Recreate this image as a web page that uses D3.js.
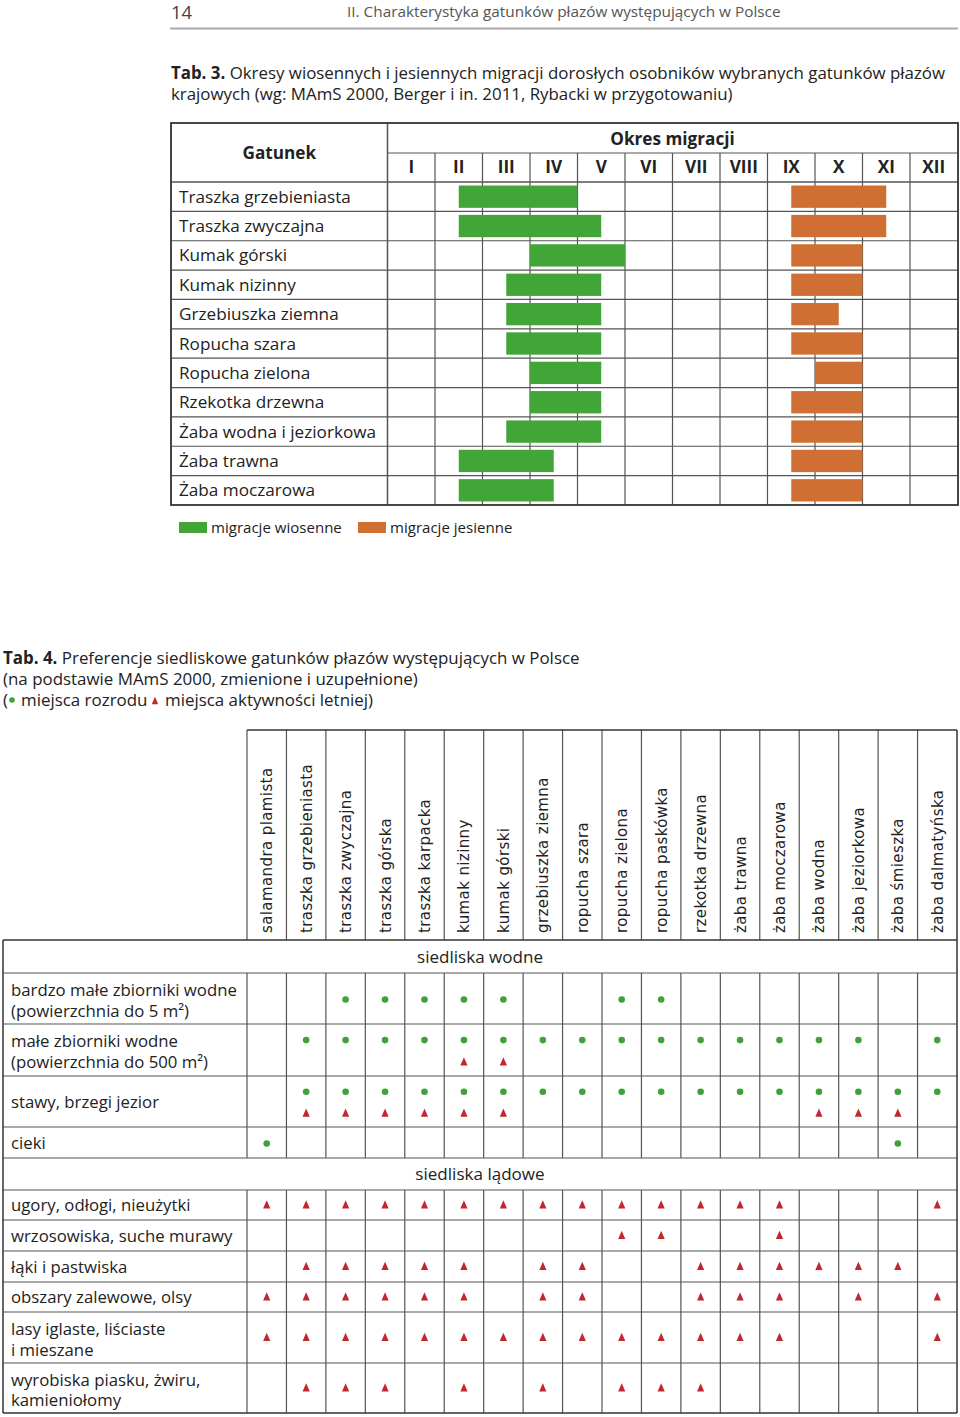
<!DOCTYPE html>
<html><head><meta charset="utf-8">
<script src="https://cdn.jsdelivr.net/npm/d3@7"></script>
<style>
body{margin:0;background:#fff;}
svg{display:block;}
</style></head><body>
<svg id="c" width="960" height="1417"></svg>
<script>
// ---------- DATA ----------
const months = ["I","II","III","IV","V","VI","VII","VIII","IX","X","XI","XII"];
const species3 = ["Traszka grzebieniasta","Traszka zwyczajna","Kumak górski","Kumak nizinny","Grzebiuszka ziemna","Ropucha szara","Ropucha zielona","Rzekotka drzewna","Żaba wodna i jeziorkowa","Żaba trawna","Żaba moczarowa"];
// month positions: 0 = start of January, 12 = end of December
const springStart = [1.5,1.5,3.0,2.5,2.5,2.5,3.0,3.0,2.5,1.5,1.5];
const springEnd   = [4.0,4.5,5.0,4.5,4.5,4.5,4.5,4.5,4.5,3.5,3.5];
const autumnStart = [8.5,8.5,8.5,8.5,8.5,8.5,9.0,8.5,8.5,8.5,8.5];
const autumnEnd   = [10.5,10.5,10.0,10.0,9.5,10.0,10.0,10.0,10.0,10.0,10.0];
const legend3 = ["migracje wiosenne","migracje jesienne"];

const species4 = ["salamandra plamista","traszka grzebieniasta","traszka zwyczajna","traszka górska","traszka karpacka","kumak nizinny","kumak górski","grzebiuszka ziemna","ropucha szara","ropucha zielona","ropucha paskówka","rzekotka drzewna","żaba trawna","żaba moczarowa","żaba wodna","żaba jeziorkowa","żaba śmieszka","żaba dalmatyńska"];
const sections = ["siedliska wodne","siedliska lądowe"];
const waterHabitats = [["bardzo małe zbiorniki wodne","(powierzchnia do 5 m²)"],["małe zbiorniki wodne","(powierzchnia do 500 m²)"],["stawy, brzegi jezior"],["cieki"]];
const waterBreeding = ["001111100110000000","011111111111111101","011111111111111111","100000000000000010"];
const waterSummer   = ["000000000000000000","000001100000000000","011111100000001110","000000000000000000"];
const landHabitats = [["ugory, odłogi, nieużytki"],["wrzosowiska, suche murawy"],["łąki i pastwiska"],["obszary zalewowe, olsy"],["lasy iglaste, liściaste","i mieszane"],["wyrobiska piasku, żwiru,","kamieniołomy"]];
const landSummer = ["111111111111110001","000000000110010000","011111011001111110","111111011001110101","111111111111110001","011101010111000000"];

// ---------- STYLE / LAYOUT ----------
const FN = "'Open Sans','Noto Sans',sans-serif";
const FV = "'DejaVu Sans',sans-serif";
const GREEN = "#41a537", ORANGE = "#cf6f33", DOT = "#3ea23a", TRI = "#c1272d";
const TXT = "#222", LINE = "#555";
const waterRowH = [51,52,51,31], landRowH = [30,31,31,30,51,50], secH = [33,32];

const svg = d3.select("#c");
// font size that makes a sample string reach a target width
function fit(str, target, weight){
  const t = svg.append("text").style("font-family",FN).style("font-size","100px").style("font-weight",weight||"normal").text(str);
  const w = t.node().getComputedTextLength(); t.remove();
  return 100*target/w;
}
const fsHead = fit("II. Charakterystyka gatunków płazów występujących w Polsce", 434);
const fsT3 = fit("krajowych (wg: MAmS 2000, Berger i in. 2011, Rybacki w przygotowaniu)", 562);
const fsRow3 = fit("Traszka grzebieniasta", 172);
const fsLeg = fit("migracje wiosenne", 131);
const fsT4 = fit("(na podstawie MAmS 2000, zmienione i uzupełnione)", 415);
const fsRow4 = fit("bardzo małe zbiorniki wodne", 226);
const fsSec = fit("siedliska wodne", 126);

// ---------- PAGE HEADER ----------
svg.append("text").attr("x",171).attr("y",19).text("14")
  .style("font-family",FN).style("font-size",(fsHead*1.2)+"px").attr("fill","#444");
svg.append("text").attr("x",347).attr("y",17).text("II. Charakterystyka gatunków płazów występujących w Polsce")
  .style("font-family",FN).style("font-size",fsHead+"px").attr("fill","#555");
svg.append("line").attr("x1",170).attr("x2",958).attr("y1",28.5).attr("y2",28.5).attr("stroke","#aaa").attr("stroke-width",2);

// ---------- TAB 3 TITLE ----------
const t3 = svg.append("text").attr("x",171).attr("y",79).style("font-family",FN).style("font-size",fsT3+"px").attr("fill",TXT);
t3.append("tspan").style("font-weight","bold").text("Tab. 3.");
t3.append("tspan").text(" Okresy wiosennych i jesiennych migracji dorosłych osobników wybranych gatunków płazów");
svg.append("text").attr("x",171).attr("y",100).style("font-family",FN).style("font-size",fsT3+"px").attr("fill",TXT)
  .text("krajowych (wg: MAmS 2000, Berger i in. 2011, Rybacki w przygotowaniu)");

// ---------- TAB 3 TABLE ----------
const L3 = 171, R3 = 958, T3 = 123, H3a = 153, H3b = 182, B3 = 505, C3 = 387.5;
const x3 = d3.scaleLinear().domain([0,12]).range([C3,957.5]);
const y3 = d3.scaleBand().domain(species3).range([H3b,B3]);
const g3 = svg.append("g");

g3.append("line").attr("x1",C3).attr("x2",R3).attr("y1",H3a).attr("y2",H3a).attr("stroke",LINE).attr("stroke-width",1.2);
g3.selectAll("line.hr").data(species3.slice(1)).join("line").attr("class","hr")
  .attr("x1",L3).attr("x2",R3).attr("y1",d=>y3(d)).attr("y2",d=>y3(d)).attr("stroke",LINE).attr("stroke-width",1.2);
g3.append("line").attr("x1",L3).attr("x2",R3).attr("y1",H3b).attr("y2",H3b).attr("stroke",LINE).attr("stroke-width",1.5);
g3.selectAll("line.vr").data(d3.range(1,12)).join("line").attr("class","vr")
  .attr("x1",d=>x3(d)).attr("x2",d=>x3(d)).attr("y1",H3a).attr("y2",B3).attr("stroke",LINE).attr("stroke-width",1.2);
g3.append("line").attr("x1",C3).attr("x2",C3).attr("y1",T3).attr("y2",B3).attr("stroke",LINE).attr("stroke-width",1.5);

const bh = y3.bandwidth()*0.76;
g3.selectAll("rect.sp").data(species3).join("rect").attr("class","sp")
  .attr("x",(d,i)=>x3(springStart[i])).attr("width",(d,i)=>x3(springEnd[i])-x3(springStart[i]))
  .attr("y",d=>y3(d)+(y3.bandwidth()-bh)/2).attr("height",bh).attr("fill",GREEN);
g3.selectAll("rect.au").data(species3).join("rect").attr("class","au")
  .attr("x",(d,i)=>x3(autumnStart[i])).attr("width",(d,i)=>x3(autumnEnd[i])-x3(autumnStart[i]))
  .attr("y",d=>y3(d)+(y3.bandwidth()-bh)/2).attr("height",bh).attr("fill",ORANGE);

g3.append("rect").attr("x",L3).attr("y",T3).attr("width",R3-L3).attr("height",B3-T3).attr("fill","none").attr("stroke","#333").attr("stroke-width",1.8);

g3.append("text").attr("x",(L3+C3)/2).attr("y",159).attr("text-anchor","middle").text("Gatunek")
  .style("font-family",FN).style("font-weight","bold").style("font-size",fsRow3+"px").attr("fill",TXT);
g3.append("text").attr("x",(C3+957.5)/2).attr("y",145).attr("text-anchor","middle").text("Okres migracji")
  .style("font-family",FN).style("font-weight","bold").style("font-size",fsRow3+"px").attr("fill",TXT);
g3.selectAll("text.mo").data(months).join("text").attr("class","mo")
  .attr("x",(d,i)=>x3(i+0.5)).attr("y",173).attr("text-anchor","middle").text(d=>d)
  .style("font-family",FN).style("font-weight","bold").style("font-size",fsRow3+"px").attr("fill",TXT);
g3.selectAll("text.sl").data(species3).join("text").attr("class","sl")
  .attr("x",179).attr("y",d=>y3(d)+y3.bandwidth()/2+6).text(d=>d)
  .style("font-family",FN).style("font-size",fsRow3+"px").attr("fill",TXT);

// legend
const lg = svg.append("g");
[[179,211],[358,390]].forEach((p,i)=>{
  lg.append("rect").attr("x",p[0]).attr("y",522).attr("width",28).attr("height",11).attr("fill",i?ORANGE:GREEN);
  lg.append("text").attr("x",p[1]).attr("y",533).text(legend3[i])
    .style("font-family",FN).style("font-size",fsLeg+"px").attr("fill",TXT);
});

// ---------- TAB 4 TITLE ----------
const t4 = svg.append("text").attr("x",3).attr("y",664).style("font-family",FN).style("font-size",fsT4+"px").attr("fill",TXT);
t4.append("tspan").style("font-weight","bold").text("Tab. 4.");
t4.append("tspan").text(" Preferencje siedliskowe gatunków płazów występujących w Polsce");
svg.append("text").attr("x",3).attr("y",685).style("font-family",FN).style("font-size",fsT4+"px").attr("fill",TXT)
  .text("(na podstawie MAmS 2000, zmienione i uzupełnione)");
svg.append("text").attr("x",3).attr("y",706).style("font-family",FN).style("font-size",fsT4+"px").attr("fill",TXT).text("(");
svg.append("circle").attr("cx",12).attr("cy",700).attr("r",2.8).attr("fill",DOT);
svg.append("text").attr("x",21).attr("y",706).style("font-family",FN).style("font-size",fsT4+"px").attr("fill",TXT).text("miejsca rozrodu");
svg.append("path").attr("d","M0,-4.2L3.2,3.2L-3.2,3.2Z").attr("transform","translate(155,701)").attr("fill",TRI);
svg.append("text").attr("x",165).attr("y",706).style("font-family",FN).style("font-size",fsT4+"px").attr("fill",TXT).text("miejsca aktywności letniej)");

// ---------- TAB 4 TABLE ----------
const L4 = 3, R4 = 957, C4 = 247, T4 = 730, HB = 940;
const x4 = d3.scaleBand().domain(species4).range([C4,R4]);
const g4 = svg.append("g");

const rows = [];
rows.push({type:"sec",label:sections[0],h:secH[0]});
waterHabitats.forEach((h,i)=>rows.push({type:"row",lines:h,dots:waterBreeding[i],tris:waterSummer[i],h:waterRowH[i]}));
rows.push({type:"sec",label:sections[1],h:secH[1]});
landHabitats.forEach((h,i)=>rows.push({type:"row",lines:h,dots:"000000000000000000",tris:landSummer[i],h:landRowH[i]}));
let yy = HB;
rows.forEach(r=>{ r.y0 = yy; yy += r.h; });
const B4 = yy;

g4.selectAll("line.hv").data(species4).join("line").attr("class","hv")
  .attr("x1",d=>x4(d)).attr("x2",d=>x4(d)).attr("y1",T4).attr("y2",HB).attr("stroke",LINE).attr("stroke-width",1.2);

g4.selectAll("text.cn").data(species4).join("text").attr("class","cn")
  .attr("transform",d=>`translate(${x4(d)+x4.bandwidth()/2+5.5},933) rotate(-90)`).text(d=>d)
  .style("font-family",FV).style("font-size","15px").style("letter-spacing","0.4px").attr("fill",TXT);

rows.forEach((r,ri)=>{
  if (ri>0) g4.append("line").attr("x1",L4).attr("x2",R4).attr("y1",r.y0).attr("y2",r.y0).attr("stroke",LINE).attr("stroke-width",1.2);
  if (r.type==="sec"){
    g4.append("text").attr("x",(L4+R4)/2).attr("y",r.y0+r.h/2+6).attr("text-anchor","middle").text(r.label)
      .style("font-family",FN).style("font-size",fsSec+"px").attr("fill",TXT);
    return;
  }
  g4.selectAll(null).data(species4).join("line")
    .attr("x1",d=>x4(d)).attr("x2",d=>x4(d)).attr("y1",r.y0).attr("y2",r.y0+r.h).attr("stroke",LINE).attr("stroke-width",1.2);
  const n = r.lines.length;
  r.lines.forEach((ln,li)=>{
    const cy = n===1 ? r.y0+r.h/2 : r.y0 + r.h*(li===0?0.33:0.74);
    g4.append("text").attr("x",11).attr("y",cy+6).text(ln)
      .style("font-family",FN).style("font-size",fsRow4+"px").attr("fill",TXT);
  });
  const hasD = r.dots.includes("1"), hasT = r.tris.includes("1");
  const both = hasD && hasT;
  const dy = both ? r.y0 + r.h*0.31 : r.y0 + r.h/2 + 1;
  const ty = both ? r.y0 + r.h*0.73 : r.y0 + r.h/2;
  g4.selectAll(null).data(species4.filter((s,i)=>r.dots[i]==="1")).join("circle")
    .attr("cx",d=>x4(d)+x4.bandwidth()/2).attr("cy",dy).attr("r",3.3).attr("fill",DOT);
  g4.selectAll(null).data(species4.filter((s,i)=>r.tris[i]==="1")).join("path")
    .attr("d","M0,-4.8L3.6,3.6L-3.6,3.6Z")
    .attr("transform",d=>`translate(${x4(d)+x4.bandwidth()/2},${ty})`).attr("fill",TRI);
});

// outer borders of table 4
g4.append("line").attr("x1",C4).attr("x2",R4).attr("y1",T4).attr("y2",T4).attr("stroke","#333").attr("stroke-width",1.5);
g4.append("line").attr("x1",R4).attr("x2",R4).attr("y1",T4).attr("y2",B4).attr("stroke","#333").attr("stroke-width",1.5);
g4.append("line").attr("x1",L4).attr("x2",R4).attr("y1",HB).attr("y2",HB).attr("stroke","#333").attr("stroke-width",1.5);
g4.append("line").attr("x1",L4).attr("x2",L4).attr("y1",HB).attr("y2",B4).attr("stroke","#333").attr("stroke-width",1.5);
g4.append("line").attr("x1",L4).attr("x2",R4).attr("y1",B4).attr("y2",B4).attr("stroke","#333").attr("stroke-width",1.5);
</script>
</body></html>
